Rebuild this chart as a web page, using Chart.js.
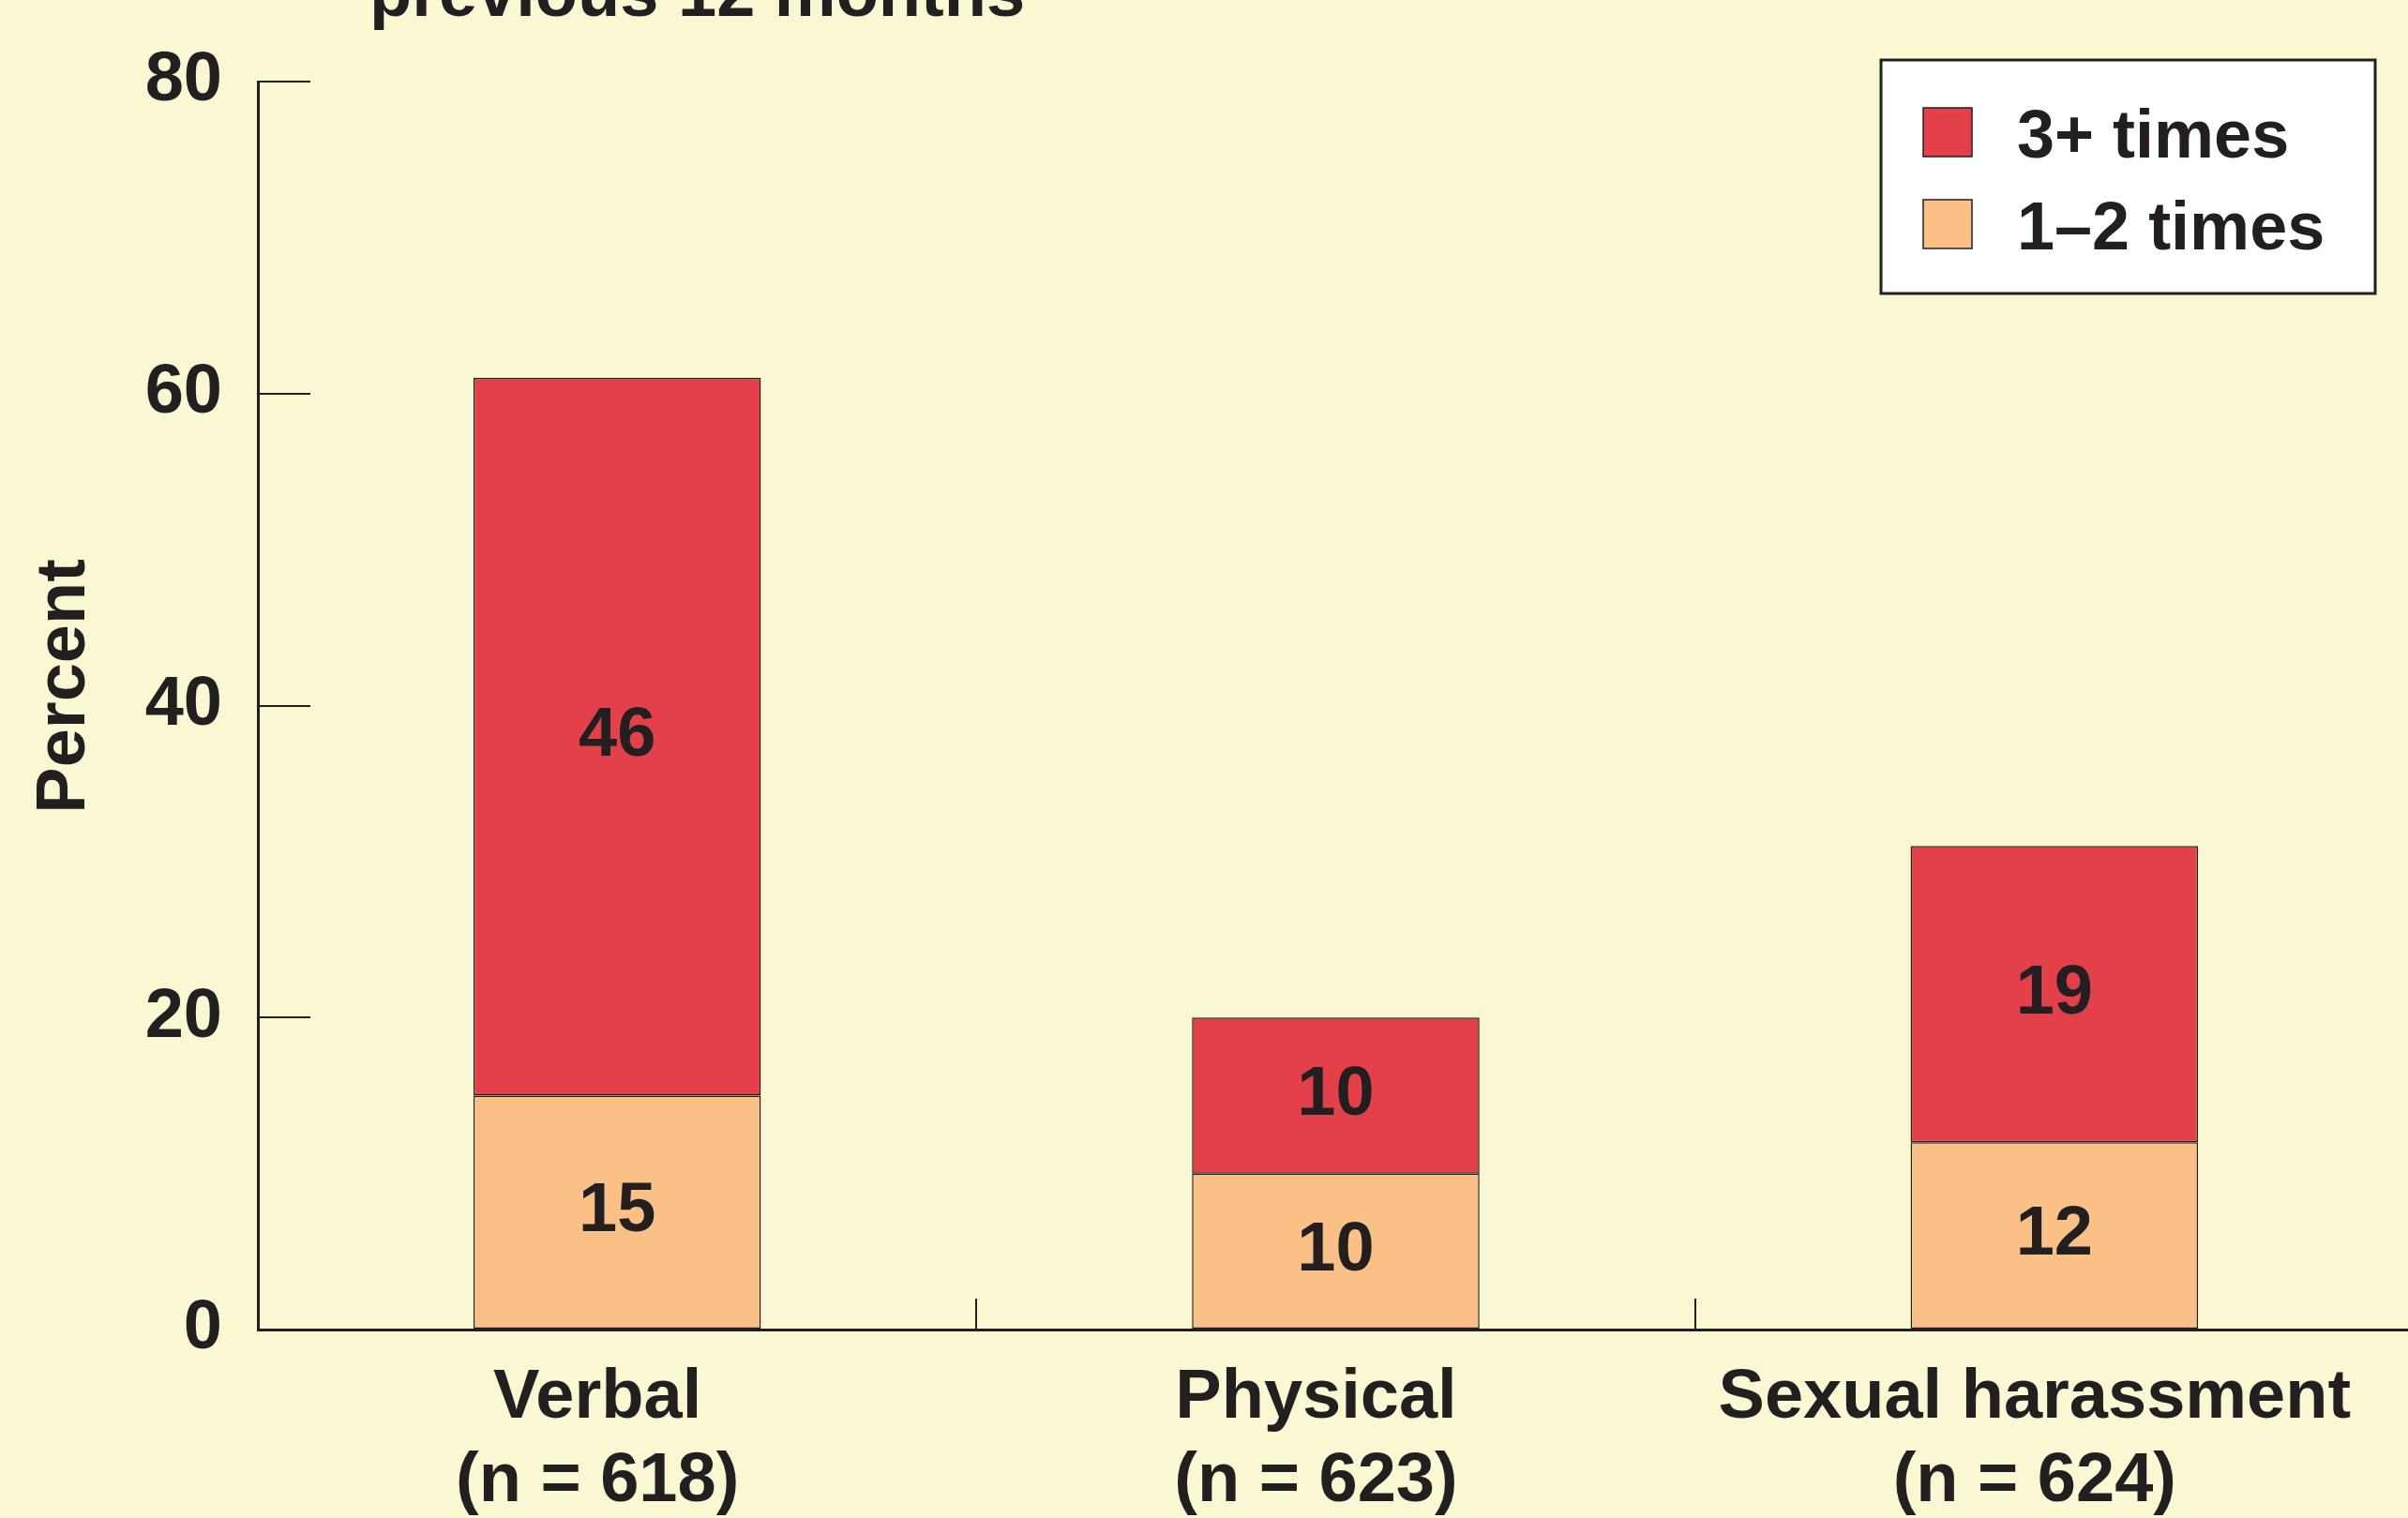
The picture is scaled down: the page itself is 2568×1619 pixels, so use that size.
<!DOCTYPE html>
<html>
<head>
<meta charset="utf-8">
<script src="https://cdn.jsdelivr.net/npm/chart.js@4.4.0/dist/chart.umd.min.js"></script>
<style>
  html, body { margin: 0; padding: 0; background: #FAF7D3; overflow: hidden; }
  #wrap { position: relative; width: 2574px; height: 1619px; }
  #title {
    position: absolute; left: 394px; top: -45px;
    font: bold 74px "Liberation Sans", Arial, sans-serif;
    line-height: 74px; color: #231F20; white-space: nowrap;
  }
</style>
</head>
<body>
<div id="wrap">
  <canvas id="chart"></canvas>
  <div id="title">previous 12 months</div>
</div>
<script>
// Data
const categories = [['Verbal', '(n = 618)'], ['Physical', '(n = 623)'], ['Sexual harassment', '(n = 624)']];
const seriesNames = ['1–2 times', '3+ times'];
const onceOrTwice = [15, 10, 12];
const threePlus = [46, 10, 19];
const yTicks = [0, 20, 40, 60, 80];

const INK = '#231F20';
const FONT = '"Liberation Sans", Arial, sans-serif';
const colors = ['#FBC085', '#E4404A'];

// Numbers in the middle of each bar segment
const barValueLabels = {
    id: 'barValueLabels',
    afterDatasetsDraw(chart) {
        const ctx = chart.ctx;
        ctx.save();
        ctx.font = 'bold 74px ' + FONT;
        ctx.fillStyle = INK;
        ctx.textAlign = 'center';
        ctx.textBaseline = 'middle';
        chart.data.datasets.forEach((ds, i) => {
            chart.getDatasetMeta(i).data.forEach((bar, j) => {
                ctx.fillText(String(ds.data[j]), bar.x, (bar.y + bar.base) / 2);
            });
        });
        ctx.restore();
    }
};

// Boxed legend in the top right corner, top series first
const boxLegend = {
    id: 'boxLegend',
    afterDraw(chart) {
        const { ctx, chartArea } = chart;
        const w = 527, h = 249;
        const left = chartArea.right - 41 - w;
        const top = chartArea.top - 23;
        ctx.save();
        ctx.fillStyle = '#FFFFFF';
        ctx.fillRect(left, top, w, h);
        ctx.strokeStyle = INK;
        ctx.lineWidth = 3;
        ctx.strokeRect(left, top, w, h);

        ctx.font = 'bold 72px ' + FONT;
        ctx.textBaseline = 'middle';
        ctx.textAlign = 'left';
        const items = chart.data.datasets.slice().reverse();
        items.forEach((ds, k) => {
            const sy = top + 51 + k * 98;
            ctx.fillStyle = ds.backgroundColor;
            ctx.fillRect(left + 45, sy, 52, 52);
            ctx.lineWidth = 1.5;
            ctx.strokeStyle = INK;
            ctx.strokeRect(left + 45, sy, 52, 52);
            ctx.fillStyle = INK;
            ctx.fillText(ds.label, left + 145, sy + 33);
        });
        ctx.restore();
    }
};

new Chart(document.getElementById('chart'), {
    type: 'bar',
    data: {
        labels: categories,
        datasets: [
            {
                label: seriesNames[0],
                data: onceOrTwice,
                backgroundColor: colors[0],
                borderColor: INK,
                borderWidth: 1.5,
                borderSkipped: false
            },
            {
                label: seriesNames[1],
                data: threePlus,
                backgroundColor: colors[1],
                borderColor: INK,
                borderWidth: 1.5,
                borderSkipped: false
            }
        ]
    },
    options: {
        responsive: true,
        maintainAspectRatio: false,
        animation: false,
        layout: { padding: { top: 87, left: 0, right: 0, bottom: 0 } },
        datasets: { bar: { barPercentage: 0.4, categoryPercentage: 1 } },
        plugins: {
            legend: { display: false },
            title: { display: false },
            tooltip: { enabled: false }
        },
        scales: {
            x: {
                stacked: true,
                afterFit(scale) {
                    scale.height = 201;
                    scale.paddingLeft = 0;
                    scale.paddingRight = 0;
                },
                border: { display: true, color: INK, width: 3 },
                grid: {
                    display: true,
                    offset: true,
                    drawOnChartArea: false,
                    drawTicks: true,
                    tickLength: -33,
                    color: INK,
                    lineWidth: 2
                },
                ticks: {
                    color: INK,
                    padding: 62,
                    labelOffset: -21,
                    maxRotation: 0,
                    font: { family: FONT, size: 74, weight: 'bold', lineHeight: 1.2 }
                }
            },
            y: {
                stacked: true,
                min: yTicks[0],
                max: yTicks[yTicks.length - 1],
                afterFit(scale) {
                    scale.width = 275;
                    scale.paddingTop = 0;
                    scale.paddingBottom = 0;
                },
                afterBuildTicks(scale) { scale.ticks = yTicks.map(v => ({ value: v })); },
                border: { display: true, color: INK, width: 3 },
                grid: {
                    display: true,
                    drawOnChartArea: false,
                    drawTicks: true,
                    tickLength: -56,
                    color: INK,
                    lineWidth: 2
                },
                ticks: {
                    color: INK,
                    padding: 94,
                    font: { family: FONT, size: 74, weight: 'bold' }
                },
                title: {
                    display: true,
                    // leading spaces nudge the word up the axis like the original
                    text: '  Percent',
                    color: INK,
                    padding: { top: 25, bottom: 0 },
                    font: { family: FONT, size: 74, weight: 'bold', lineHeight: 1.2 }
                }
            }
        }
    },
    plugins: [barValueLabels, boxLegend]
});
</script>
</body>
</html>
